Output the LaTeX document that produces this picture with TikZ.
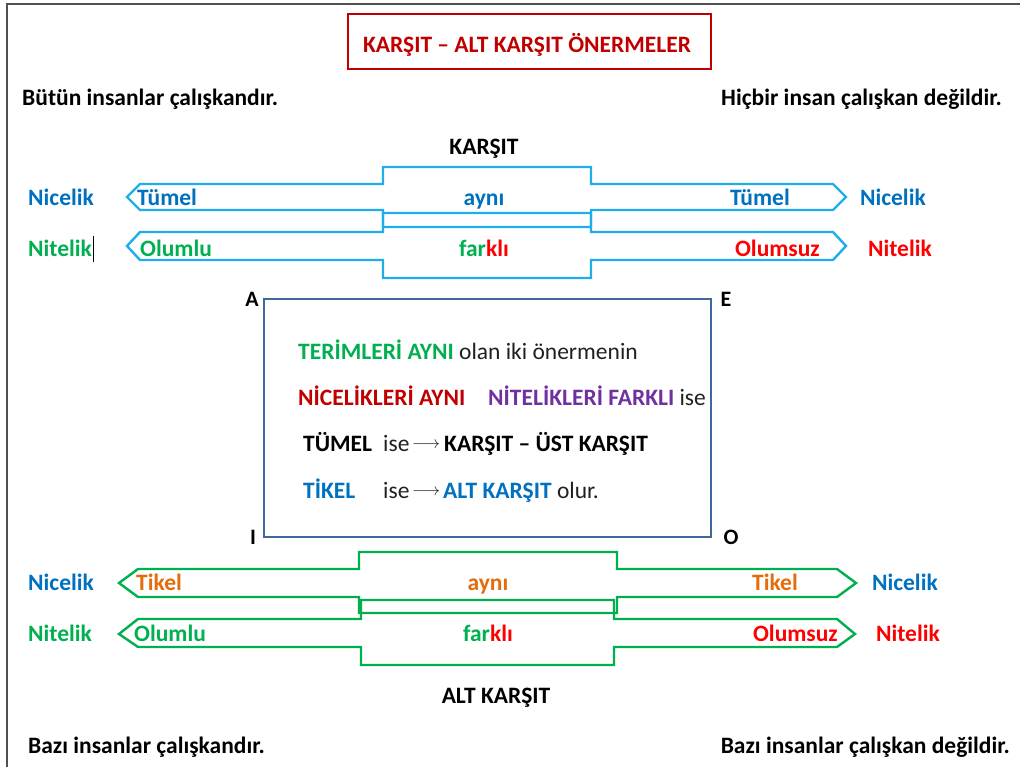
\documentclass[tikz,border=0pt]{standalone}
\usepackage{fontspec}
\setmainfont{Carlito}
\definecolor{titlered}{HTML}{C00000}
\definecolor{skyline}{HTML}{1FAEEA}
\definecolor{txtblue}{HTML}{0070C0}
\definecolor{txtgreen}{HTML}{00B050}
\definecolor{txtred}{HTML}{FF0000}
\definecolor{txtorange}{HTML}{E46C0A}
\definecolor{txtpurple}{HTML}{7030A0}
\definecolor{boxblue}{HTML}{41689C}
\definecolor{framegray}{HTML}{505050}
\definecolor{bodytxt}{HTML}{202020}
\begin{document}
\begin{tikzpicture}[x=1pt,y=-1pt,
  lbl/.style={font=\bfseries\fontsize{23.5}{26}\selectfont, inner sep=0pt,
              text height=15pt, text depth=0pt},
  sentence/.style={lbl, text=black},
  boxline/.style={font=\fontsize{23.5}{26}\selectfont, inner sep=0pt, anchor=west,
                  text=bodytxt, text height=15pt, text depth=0pt},
  implies/.style={font=\fontsize{18}{20}\selectfont, inner sep=0pt, anchor=west,
                  text=bodytxt},
  corner/.style={font=\bfseries\fontsize{22}{24}\selectfont, inner sep=0pt, text=black,
                 text height=14pt, text depth=0pt},
  bluearrow/.style={draw=skyline, line width=2.4pt, line join=miter},
  greenarrow/.style={draw=txtgreen, line width=2.4pt, line join=miter}]
\useasboundingbox (0,0) rectangle (1020,767);

% page frame (top and left edges)
\draw[framegray, line width=2pt] (7,767) -- (7,4) -- (1020,4);

% title
\node[draw=titlered, line width=2pt, minimum width=363pt, minimum height=55pt,
      inner sep=0pt] (title) at (529.5,41.5) {};
\node[lbl, text=titlered] (titletext) at (527,45) {KARŞIT – ALT KARŞIT ÖNERMELER};

% example sentences
\node[sentence, anchor=west] (sA) at (22,98) {Bütün insanlar çalışkandır.};
\node[sentence, anchor=east] (sE) at (1002,98) {Hiçbir insan çalışkan değildir.};
\node[sentence, anchor=west] (sI) at (28,746) {Bazı insanlar çalışkandır.};
\node[sentence, anchor=east] (sO) at (1010,746) {Bazı insanlar çalışkan değildir.};

% upper double arrows (contrary)
\draw[bluearrow] (127,197) -- (140,184) -- (383,184) -- (383,167) -- (591,167)
  -- (591,184) -- (833,184) -- (846,197) -- (833,210) -- (591,210) -- (591,227)
  -- (383,227) -- (383,210) -- (140,210) -- cycle;
\draw[bluearrow] (127,246) -- (140,232) -- (383,232) -- (383,213) -- (591,213)
  -- (591,232) -- (833,232) -- (846,246) -- (833,260) -- (591,260) -- (591,278)
  -- (383,278) -- (383,260) -- (140,260) -- cycle;

\node[sentence] (karsit) at (484,147) {KARŞIT};
\node[lbl, text=txtblue, anchor=west] (nicUL) at (28,198) {Nicelik};
\node[lbl, text=txtblue, anchor=east] (nicUR) at (926,198) {Nicelik};
\node[lbl, text=txtgreen, anchor=west] (nitUL) at (28,249) {Nitelik};
\node[lbl, text=txtred, anchor=east] (nitUR) at (932,249) {Nitelik};
\node[lbl, text=txtblue, anchor=west] (tumL) at (137,198) {Tümel};
\node[lbl, text=txtblue, anchor=east] (tumR) at (790,198) {Tümel};
\node[lbl, text=txtblue] (aynU) at (484,198) {aynı};
\node[lbl, text=txtgreen, anchor=west] (olmL) at (140,249) {Olumlu};
\node[lbl, text=txtred, anchor=east] (olmR) at (820,249) {Olumsuz};
\node[lbl] (farU) at (484,249) {\textcolor{txtgreen}{far}\textcolor{txtred}{klı}};
\draw[black, line width=1pt] (93,236) -- (93,262);

% central box
\node[draw=boxblue, line width=2.4pt, minimum width=447pt, minimum height=238pt,
      inner sep=0pt] (core) at (487.5,418) {};
\node[corner] (cA) at (252,300) {A};
\node[corner] (cE) at (726,300) {E};
\node[corner] (cI) at (253,537) {I};
\node[corner] (cO) at (731,537) {O};

\node[boxline] (l1) at (298,352)
  {\textbf{\textcolor{txtgreen}{TERİMLERİ AYNI}} olan iki önermenin};
\node[boxline] (l2a) at (298,398) {\textbf{\textcolor{titlered}{NİCELİKLERİ AYNI}}};
\node[boxline] (l2b) at (488,398) {\textbf{\textcolor{txtpurple}{NİTELİKLERİ FARKLI}} ise};
\node[boxline] (l3a) at (303,444) {\textbf{\textcolor{black}{TÜMEL}}};
\node[boxline] (l3b) at (383,444) {ise};
\node[implies] (l3r) at (412,445) {$\longrightarrow$};
\node[boxline] (l3c) at (444,444) {\textbf{\textcolor{black}{KARŞIT – ÜST KARŞIT}}};
\node[boxline] (l4a) at (303,491) {\textbf{\textcolor{txtblue}{TİKEL}}};
\node[boxline] (l4b) at (383,491) {ise};
\node[implies] (l4r) at (412,492) {$\longrightarrow$};
\node[boxline] (l4c) at (443,491) {\textbf{\textcolor{txtblue}{ALT KARŞIT}} olur.};

% lower double arrows (subcontrary)
\draw[greenarrow] (119,583) -- (138,569) -- (359,569) -- (359,552) -- (617,552)
  -- (617,569) -- (837,569) -- (856,583) -- (837,597) -- (617,597) -- (617,613)
  -- (359,613) -- (359,597) -- (138,597) -- cycle;
\draw[greenarrow] (119,634) -- (138,619) -- (361,619) -- (361,600) -- (614,600)
  -- (614,619) -- (837,619) -- (855,634) -- (837,647) -- (614,647) -- (614,665)
  -- (361,665) -- (361,647) -- (138,647) -- cycle;

\node[sentence] (altkarsit) at (496,696) {ALT KARŞIT};
\node[lbl, text=txtblue, anchor=west] (nicLL) at (28,583) {Nicelik};
\node[lbl, text=txtblue, anchor=east] (nicLR) at (938,583) {Nicelik};
\node[lbl, text=txtgreen, anchor=west] (nitLL) at (28,634) {Nitelik};
\node[lbl, text=txtred, anchor=east] (nitLR) at (940,634) {Nitelik};
\node[lbl, text=txtorange, anchor=west] (tikL) at (136,583) {Tikel};
\node[lbl, text=txtorange, anchor=east] (tikR) at (798,583) {Tikel};
\node[lbl, text=txtorange] (aynL) at (488,583) {aynı};
\node[lbl, text=txtgreen, anchor=west] (olmLL) at (134,634) {Olumlu};
\node[lbl, text=txtred, anchor=east] (olmLR) at (838,634) {Olumsuz};
\node[lbl] (farL) at (488,634) {\textcolor{txtgreen}{far}\textcolor{txtred}{klı}};
\end{tikzpicture}
\end{document}
